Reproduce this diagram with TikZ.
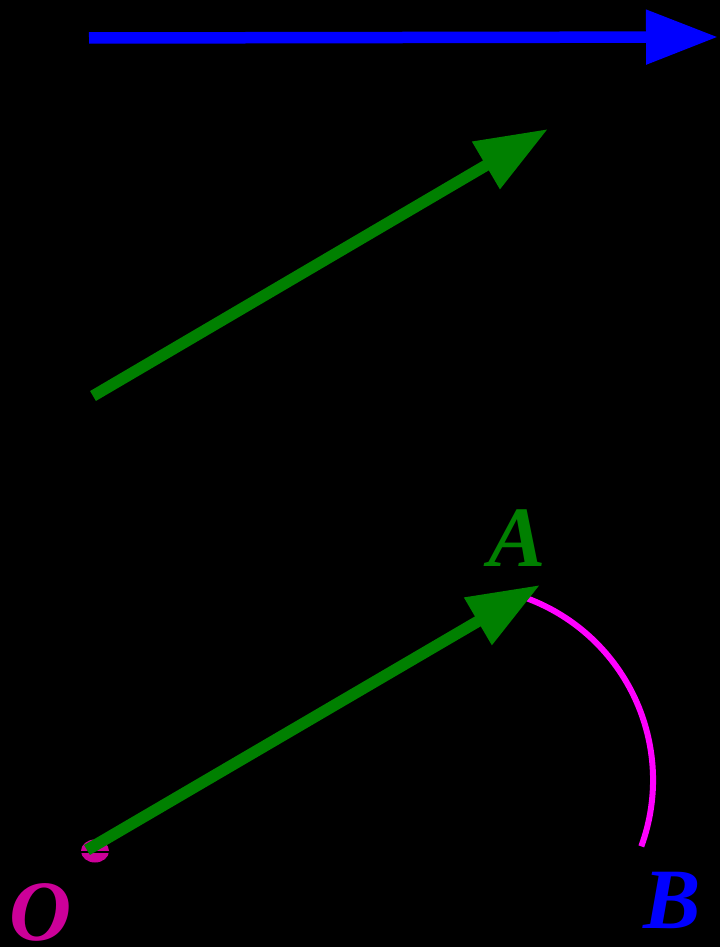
\documentclass[tikz,border=0pt]{standalone}
\usepackage{fontspec}
\setmainfont{Liberation Serif}
\usetikzlibrary{arrows.meta,calc}
\definecolor{mygreen}{HTML}{008000}
\definecolor{myblue}{HTML}{0000FF}
\definecolor{mymag}{HTML}{FF00FF}
\definecolor{mypurple}{HTML}{CC0099}
\begin{document}
\begin{tikzpicture}[x=1pt,y=-1pt,
  vec/.style={line width=11.5pt,-{Triangle[length=72pt,width=52pt]}},
  lbl/.style={font=\fontsize{86}{86}\selectfont\bfseries\itshape,inner sep=0pt,anchor=base}]
\fill[black] (0,0) rectangle (720,947);
\useasboundingbox (0,0) rectangle (720,947);
% top blue vector
\coordinate (b1) at (89,38);
\coordinate (b2) at (718,37);
\draw[vec,myblue] (b1) -- (b2);
% upper green vector
\coordinate (g1) at (93,396);
\coordinate (g2) at (548,129);
\draw[vec,mygreen] (g1) -- (g2);
% origin mark
\coordinate (o) at (95,851);
\fill[mypurple] (o) ellipse [x radius=14pt, y radius=11.5pt];
\draw[black,line width=2pt] ($(o)+(-15,1)$) -- ($(o)+(15,1)$);
% magenta arc
\coordinate (c) at (459,780);
\draw[mymag,line width=6pt] (c) ++(-69.5:194) arc[start angle=-69.5,end angle=20,radius=194];
% lower green vector
\coordinate (v1) at (87,850);
\coordinate (v2) at (540,585);
\draw[vec,mygreen] (v1) -- (v2);
% labels
\node[lbl,text=mygreen] (A) at (517,566) {A};
\node[lbl,text=myblue] (B) at (672,928) {B};
\node[lbl,text=mypurple] (O) at (41,940) {O};
\end{tikzpicture}
\end{document}
